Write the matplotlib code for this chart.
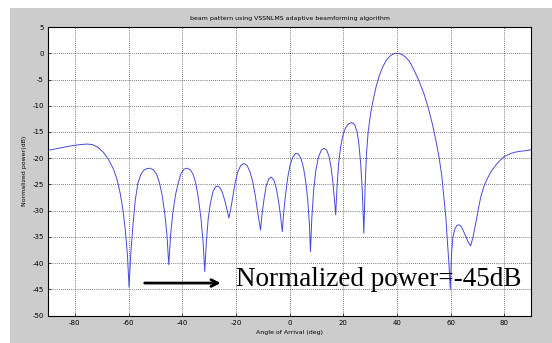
import numpy as np
import matplotlib
matplotlib.use("Agg")
import matplotlib.pyplot as plt
from matplotlib.patches import Rectangle

plt.rcParams['axes.unicode_minus'] = False

# beam pattern (deg, dB), one line per lobe
angles = [-90, -87, -84, -81, -78, -75.5, -73.5, -71.5, -69.5, -67.5, -65.5, -64.2, -63.1, -62.1, -61.2, -60.4,
          -59.8,
          -59.2, -58.5, -57.5, -56.5, -55.5, -54.5, -53.3, -52.0, -50.8, -49.6, -48.5, -47.5, -46.5, -45.7,
          -45.0,
          -44.3, -43.5, -42.5, -41.5, -40.5, -39.4, -38.2, -37.0, -36.0, -35.0, -34.0, -33.0, -32.2,
          -31.6,
          -31.0, -30.3, -29.5, -28.5, -27.5, -26.7, -25.8, -25.0, -24.0, -23.2,
          -22.6,
          -22.0, -21.2, -20.3, -19.3, -18.2, -17.0, -15.8, -14.8, -13.8, -12.8, -11.8,
          -10.8,
          -10.2, -9.5, -8.7, -7.8, -6.8, -5.8, -4.9, -4.0, -3.3,
          -2.7,
          -2.2, -1.5, -0.7, 0.2, 1.2, 2.3, 3.3, 4.3, 5.2, 6.0, 6.8, 7.4,
          7.8,
          8.3, 9.0, 9.8, 10.8, 11.8, 12.8, 13.8, 14.7, 15.5, 16.2, 16.8,
          17.2,
          17.7, 18.3, 19.0, 19.8, 20.8, 21.9, 23.2, 24.3, 25.2, 25.9, 26.5, 27.1,
          27.7,
          28.2, 28.7, 29.3, 30.2, 31.2, 32.3, 33.5, 34.8, 36.2, 37.7, 39.2, 40.5, 41.8, 43.2, 44.8,
          46.4, 48.2, 50.1, 51.7, 53.2, 54.5, 55.7, 56.7, 57.6, 58.3, 58.8, 59.4,
          59.9,
          60.4, 60.9, 61.6, 62.4, 63.2, 64.0, 64.9, 65.7, 66.6,
          67.5,
          68.4, 69.4, 70.4, 71.3, 72.5, 73.8, 75.3, 76.9, 78.5, 80.0, 82.0, 83.7, 85.5, 87.4, 90]
power_db = [-18.5, -18.2, -17.9, -17.6, -17.4, -17.3, -17.4, -17.9, -18.8, -20.2, -22.2, -24.2, -26.7, -29.8, -33.7, -38.5,
            -44.6,
            -38.5, -33.7, -28.0, -24.8, -23.2, -22.4, -22.0, -21.9, -22.2, -23.0, -24.6, -27.0, -30.5, -34.5,
            -40.3,
            -34.5, -30.5, -27.0, -24.8, -23.0, -22.1, -21.9, -22.2, -23.0, -24.6, -27.5, -31.5, -36.0,
            -41.6,
            -36.0, -31.5, -28.6, -26.3, -25.4, -25.3, -25.7, -26.6, -28.3, -30.0,
            -31.4,
            -30.0, -27.5, -24.8, -22.6, -21.4, -21.0, -21.4, -22.5, -24.3, -27.0, -30.5,
            -33.7,
            -30.5, -27.8, -25.3, -24.0, -23.6, -24.2, -25.8, -28.5, -31.2,
            -34.0,
            -30.5, -27.0, -23.8, -21.3, -19.8, -19.1, -19.2, -20.1, -21.8, -24.3, -28.0, -32.5,
            -37.8,
            -31.5, -26.0, -22.3, -19.8, -18.5, -18.1, -18.4, -19.6, -21.8, -24.8, -28.2,
            -30.8,
            -25.5, -21.0, -18.0, -15.8, -14.3, -13.5, -13.2, -13.6, -15.0, -17.5, -21.0, -26.0,
            -34.3,
            -25.0, -19.0, -15.0, -11.5, -8.8, -6.3, -4.2, -2.5, -1.2, -0.4, 0.0, 0.0, -0.2, -0.7, -1.6,
            -3.2, -5.2, -7.7, -10.4, -13.4, -16.5, -19.7, -23.2, -27.9, -31.5, -35.6, -40.0,
            -45.0,
            -38.0, -35.0, -33.5, -32.8, -32.7, -33.0, -34.0, -34.9, -36.0,
            -36.7,
            -35.0, -32.4, -29.6, -27.3, -25.3, -23.8, -22.4, -21.3, -20.4, -19.7, -19.2, -18.9, -18.7, -18.6, -18.4]
assert len(angles) == len(power_db)

xticks = np.arange(-80, 81, 20)
yticks = np.arange(-50, 6, 5)

fig = plt.figure(figsize=(5.52, 3.43), dpi=100, facecolor="white")
# matlab-ish grey figure panel, kept behind the axes
fig.add_artist(Rectangle((0.018, 0.0), 0.982, 0.977, transform=fig.transFigure,
                         facecolor="#cccccc", edgecolor="none", zorder=-10))

ax = fig.add_axes([0.087, 0.080, 0.875, 0.841])
ax.plot(angles, power_db, color="#4848e0", lw=0.7)

ax.set_xlim(-90, 90)
ax.set_ylim(-50, 5)
ax.set_xticks(xticks)
ax.set_yticks(yticks)
ax.tick_params(labelsize=5, direction="in", length=2, width=0.5, pad=3)
ax.grid(True, color="black", linestyle=(0, (1, 2)), linewidth=0.5)
for s in ax.spines.values():
    s.set_linewidth(0.8)

ax.set_title("beam pattern using VSSNLMS adaptive beamforming algorithm", fontsize=4.5, pad=5)
ax.set_xlabel("Angle of Arrival (deg)", fontsize=4.5, labelpad=3)
ax.set_ylabel("Normalized power(dB)", fontsize=4.5, labelpad=4)

# annotation of the deepest null
ax.annotate("", xy=(-24.6, -43.8), xytext=(-55, -43.8),
            arrowprops=dict(arrowstyle="->", color="black", lw=2, mutation_scale=12))
ax.text(-20.1, -44.3, "Normalized power=-45dB", fontsize=19.5, family="Liberation Serif",
        va="baseline", ha="left")

plt.savefig("out.png", dpi=100, facecolor=fig.get_facecolor())
